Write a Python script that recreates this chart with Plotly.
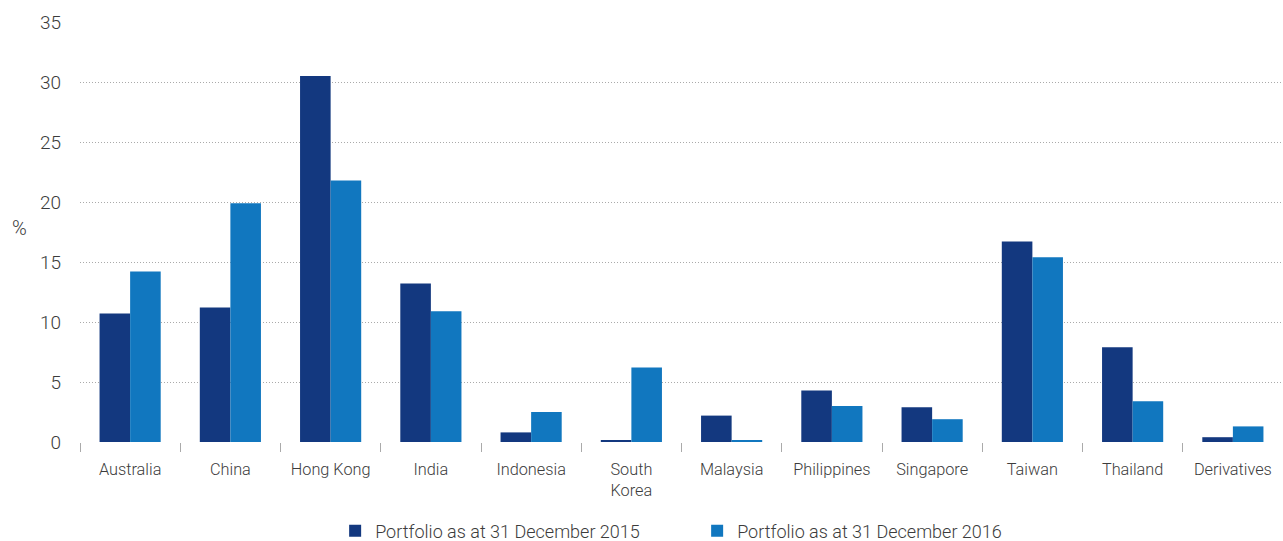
import plotly.graph_objects as go

# Portfolio country allocation, %
categories = ["Australia", "China", "Hong Kong", "India", "Indonesia", "South<br>Korea",
              "Malaysia", "Philippines", "Singapore", "Taiwan", "Thailand", "Derivatives"]
portfolio_2015 = [10.7, 11.2, 30.5, 13.2, 0.8, 0.1, 2.2, 4.3, 2.9, 16.7, 7.9, 0.4]
portfolio_2016 = [14.2, 19.9, 21.8, 10.9, 2.5, 6.2, 0.1, 3.0, 1.9, 15.4, 3.4, 1.3]
y_ticks = [0, 5, 10, 15, 20, 25, 30, 35]

DARK = "#13387f"
LIGHT = "#1177bf"
TEXT = "#3c3c3c"
FONT = "Roboto"

fig = go.Figure()
fig.add_trace(go.Bar(x=categories, y=portfolio_2015, name="Portfolio as at 31 December 2015",
                     marker=dict(color=DARK, line=dict(width=0))))
fig.add_trace(go.Bar(x=categories, y=portfolio_2016, name="Portfolio as at 31 December 2016",
                     marker=dict(color=LIGHT, line=dict(width=0))))

fig.update_layout(
    width=1283, height=541,
    margin=dict(l=80, r=0, t=22, b=99, autoexpand=False),
    paper_bgcolor="white", plot_bgcolor="white",
    barmode="group", bargap=0.39, bargroupgap=0,
    font=dict(family=FONT, size=16, color=TEXT, weight=300),
    showlegend=True,
    legend=dict(orientation="h", x=0.513, xanchor="center", y=-0.212, yanchor="middle",
                font=dict(family=FONT, size=18, color=TEXT, weight=300),
                itemwidth=30, entrywidth=317, traceorder="normal"),
    annotations=[dict(text="%", xref="paper", yref="paper", x=-0.05, y=0.51,
                      xanchor="center", yanchor="middle", showarrow=False,
                      font=dict(family=FONT, size=20, color=TEXT, weight=300))],
)

fig.update_xaxes(
    type="category", showgrid=False, showline=False, zeroline=False,
    ticks="outside", tickson="boundaries", ticklen=9, tickcolor="#aaaaaa", tickwidth=1,
    ticklabelstandoff=16,
    tickfont=dict(family=FONT, size=16.3, color=TEXT, weight=300),
)
fig.update_yaxes(
    range=[0, 35], tickvals=y_ticks, showline=False, zeroline=False,
    showgrid=True, gridcolor="#aaaaaa", griddash="1px,2px", gridwidth=1,
    ticks="", ticklabelstandoff=18,
    tickfont=dict(family=FONT, size=19, color=TEXT, weight=300),
)

fig.write_html("out.html")
